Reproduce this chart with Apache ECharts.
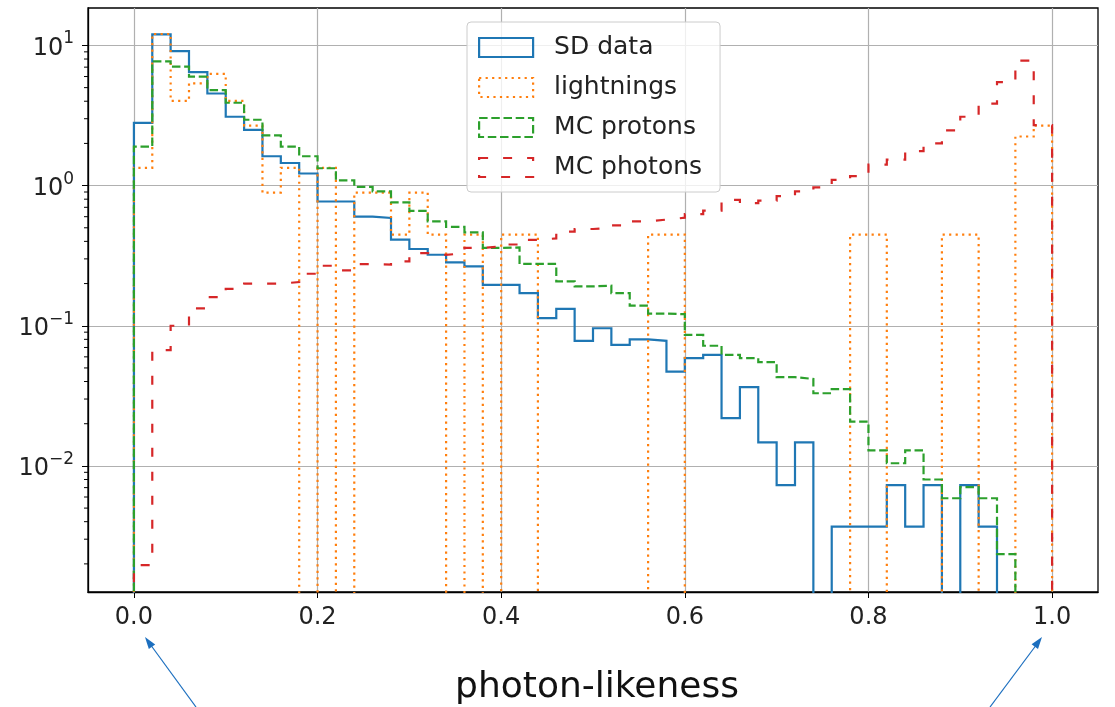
<!DOCTYPE html>
<html>
<head>
<meta charset="utf-8">
<script src="https://cdn.jsdelivr.net/npm/echarts@6/dist/echarts.min.js"></script>
<style>html,body{margin:0;padding:0;background:#fff;}#chart{width:1115px;height:707px;}</style>
</head>
<body>
<div id="chart"></div>
<script>
// ---- data (histogram, 50 bins of width 0.02 on [0,1]) ----
const binWidth = 0.02;
const binCount = 50;
const seriesNames = ['SD data', 'lightnings', 'MC protons', 'MC photons'];
const sdData = [2.8, 12.0, 9.1, 6.45, 4.54, 3.1, 2.5, 1.62, 1.45, 1.22,
  0.77, 0.77, 0.60, 0.588, 0.411, 0.353, 0.321, 0.283, 0.265, 0.196,
  0.196, 0.171, 0.1135, 0.132, 0.078, 0.096, 0.073, 0.080, 0.078, 0.047,
  0.0588, 0.062, 0.0219, 0.0365, 0.0147, 0.0073, 0.0147, 0, 0.00369, 0.00369,
  0.00369, 0.0073, 0.00369, 0.0073, 0, 0.0073, 0.00369, 0, 0, 0];
const lightnings = [1.34, 12.07, 4.02, 5.36, 6.26, 4.02, 2.68, 0.89, 1.34, 0,
  1.34, 0, 0.89, 0.89, 0.447, 0.89, 0.447, 0, 0.447, 0,
  0.447, 0.447, 0, 0, 0, 0, 0, 0, 0.447, 0.447,
  0, 0, 0, 0, 0, 0, 0, 0, 0, 0.447,
  0.447, 0, 0, 0, 0.447, 0.447, 0, 0, 2.24, 2.68];
const mcProtons = [1.9, 7.7, 7.05, 6.0, 4.8, 3.9, 2.95, 2.28, 1.9, 1.62,
  1.33, 1.09, 0.98, 0.91, 0.76, 0.66, 0.556, 0.507, 0.464, 0.359,
  0.362, 0.276, 0.276, 0.207, 0.191, 0.193, 0.171, 0.139, 0.122, 0.121,
  0.086, 0.072, 0.062, 0.0588, 0.055, 0.043, 0.0417, 0.033, 0.0353, 0.0207,
  0.0129, 0.01045, 0.0129, 0.008, 0.00588, 0.00705, 0.00588, 0.00235, 0, 0];
const mcPhotons = [0.00196, 0.067, 0.10, 0.133, 0.16, 0.183, 0.20, 0.20, 0.205, 0.235,
  0.268, 0.248, 0.275, 0.273, 0.288, 0.33, 0.32, 0.33, 0.36, 0.367,
  0.38, 0.41, 0.42, 0.47, 0.49, 0.50, 0.52, 0.556, 0.572, 0.59,
  0.625, 0.663, 0.79, 0.75, 0.78, 0.84, 0.91, 0.97, 1.10, 1.17,
  1.41, 1.53, 1.76, 2.0, 2.48, 3.1, 3.85, 5.47, 7.8, 2.7];
const xTicks = [0.0, 0.2, 0.4, 0.6, 0.8, 1.0];
const yDecades = [0.01, 0.1, 1, 10];
const xLabel = 'photon-likeness';

// ---- styling ----
const X_MIN = -0.05, X_MAX = 1.05;
const Y_MIN = 0.00126, Y_MAX = 18.5;
const FLOOR = Y_MIN / 20;   // empty bins drop below the plot, clipped like matplotlib
const colors = ['#1f77b4', '#ff7f0e', '#2ca02c', '#d62728'];
const dashes = ['solid', [2.2, 4.3], [8.5, 3.7], [9, 15]];
const LW = 2.2;
const FONT = 'DejaVu Sans';

function stepPoints(vals) {
  const pts = [[0, FLOOR]];
  for (let i = 0; i < binCount; i++) {
    const v = vals[i] > 0 ? vals[i] : FLOOR;
    pts.push([i * binWidth, v]);
    pts.push([(i + 1) * binWidth, v]);
  }
  pts.push([binCount * binWidth, FLOOR]);
  return pts;
}

const minorTicks = [];
for (let d = -3; d <= 1; d++) {
  for (let m = 2; m <= 9; m++) {
    const v = m * Math.pow(10, d);
    if (v > Y_MIN && v < Y_MAX) minorTicks.push([X_MIN, v]);
  }
}

const allVals = [sdData, lightnings, mcProtons, mcPhotons];
const chart = echarts.init(document.getElementById('chart'), null, {renderer: 'canvas'});

const series = allVals.map((vals, i) => ({
  name: seriesNames[i],
  type: 'line',
  data: stepPoints(vals),
  showSymbol: false,
  symbol: 'none',
  clip: true,
  lineStyle: {color: colors[i], width: LW, type: dashes[i], cap: 'butt', join: 'miter'},
  itemStyle: {color: colors[i]},
  animation: false,
  z: 3 + i
}));

series.push({
  type: 'custom',
  name: 'minor',
  data: minorTicks,
  clip: false,
  silent: true,
  animation: false,
  renderItem: function (params, api) {
    const p = api.coord([api.value(0), api.value(1)]);
    return {type: 'line', shape: {x1: p[0] - 4, y1: p[1], x2: p[0], y2: p[1]},
      style: {stroke: '#000', lineWidth: 1}};
  }
});

const option = {
  animation: false,
  backgroundColor: '#ffffff',
  grid: {left: 88, right: 17, top: 8, bottom: 115, show: true, borderColor: '#000', borderWidth: 1.3, backgroundColor: 'transparent'},
  xAxis: {
    type: 'value', min: X_MIN, max: X_MAX, splitNumber: 5,
    axisLine: {show: true, onZero: false, lineStyle: {color: '#000', width: 1.3}},
    axisTick: {show: true, length: 6, customValues: xTicks, lineStyle: {color: '#000', width: 1}},
    axisLabel: {customValues: xTicks, margin: 14,
      fontSize: 24, fontFamily: FONT, color: '#222', formatter: v => v.toFixed(1)},
    splitLine: {show: true, lineStyle: {color: '#b0b0b0', width: 1.2}}
  },
  yAxis: {
    type: 'log', logBase: 10, min: Y_MIN, max: Y_MAX,
    axisLine: {show: true, onZero: false, lineStyle: {color: '#000', width: 1.3}},
    axisTick: {show: true, length: 6, customValues: yDecades, lineStyle: {color: '#000', width: 1}},
    axisLabel: {customValues: yDecades, margin: 14,
      formatter: function (v) {
        const e = Math.round(Math.log10(v));
        const es = e < 0 ? '\u2212' + (-e) : String(e);
        return '{b|10}{s|' + es + '}';
      },
      rich: {
        b: {fontSize: 24, fontFamily: FONT, color: '#222', lineHeight: 30, verticalAlign: 'bottom'},
        s: {fontSize: 17, fontFamily: FONT, color: '#222', lineHeight: 30, verticalAlign: 'top'}
      }
    },
    splitLine: {show: true, lineStyle: {color: '#b0b0b0', width: 1.2}}
  },
  legend: {
    orient: 'vertical', left: 467, top: 22,
    padding: [13, 18, 12, 11],
    itemGap: 15, itemWidth: 54, itemHeight: 19,
    backgroundColor: 'rgba(255,255,255,0.8)', borderColor: '#cccccc', borderWidth: 1, borderRadius: 4,
    textStyle: {fontSize: 25, fontFamily: FONT, color: '#222', padding: [0, 0, 0, 16]},
    selectedMode: false,
    data: seriesNames.map((n, i) => ({
      name: n, icon: 'rect',
      itemStyle: {color: 'rgba(0,0,0,0)', borderColor: colors[i], borderWidth: LW, borderType: dashes[i]}
    }))
  },
  graphic: [
    {type: 'text', x: 597, y: 688, style: {text: xLabel, fontSize: 36, fontFamily: FONT, fill: '#111', align: 'center', verticalAlign: 'middle'}},
    {type: 'line', shape: {x1: 196, y1: 707, x2: 150, y2: 644}, style: {stroke: '#1c6fbf', lineWidth: 1.2}},
    {type: 'polygon', shape: {points: [[145, 637], [155.2, 644.5], [148.8, 649.1]]}, style: {fill: '#1c6fbf'}},
    {type: 'line', shape: {x1: 990, y1: 707, x2: 1037, y2: 644}, style: {stroke: '#1c6fbf', lineWidth: 1.2}},
    {type: 'polygon', shape: {points: [[1042, 637], [1038, 649], [1031.6, 644.2]]}, style: {fill: '#1c6fbf'}}
  ],
  series: series
};
chart.setOption(option);
</script>
</body>
</html>
